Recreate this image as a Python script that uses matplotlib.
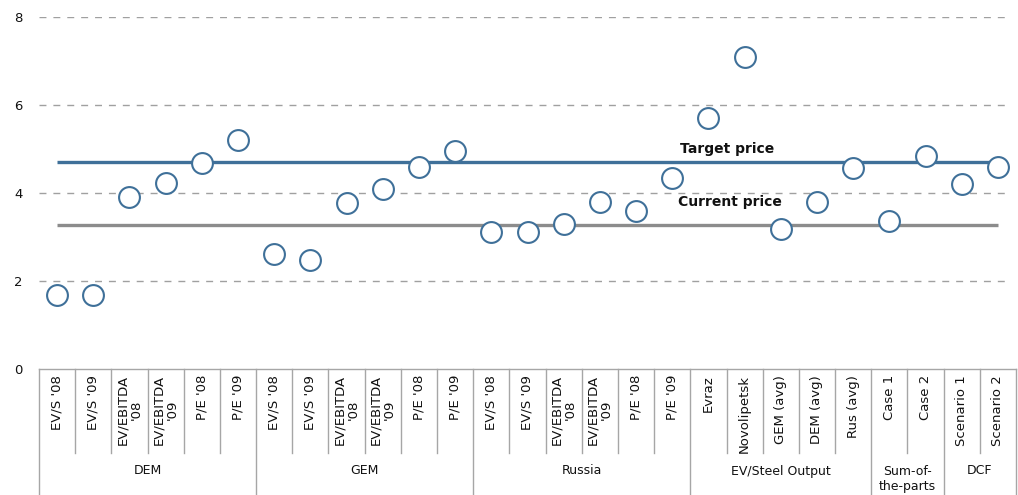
import matplotlib
matplotlib.use("Agg")
import matplotlib.pyplot as plt

# Valuation multiples, one point per method
groups = ["DEM", "GEM", "Russia", "EV/Steel Output", "Sum-of-\nthe-parts", "DCF"]
group_sizes = [6, 6, 6, 5, 2, 2]
categories = [
    "EV/S '08", "EV/S '09", "EV/EBITDA\n'08", "EV/EBITDA\n'09", "P/E '08", "P/E '09",
    "EV/S '08", "EV/S '09", "EV/EBITDA\n'08", "EV/EBITDA\n'09", "P/E '08", "P/E '09",
    "EV/S '08", "EV/S '09", "EV/EBITDA\n'08", "EV/EBITDA\n'09", "P/E '08", "P/E '09",
    "Evraz", "Novolipetsk", "GEM (avg)", "DEM (avg)", "Rus (avg)",
    "Case 1", "Case 2",
    "Scenario 1", "Scenario 2",
]
values = [
    1.68, 1.68, 3.91, 4.23, 4.68, 5.20,
    2.61, 2.48, 3.77, 4.09, 4.59, 4.95,
    3.11, 3.11, 3.30, 3.80, 3.59, 4.34,
    5.70, 7.09, 3.18, 3.80, 4.57,
    3.36, 4.84,
    4.20, 4.59,
]
target_price = 4.70
current_price = 3.27
y_ticks = [0, 2, 4, 6, 8]

blue = "#3f7099"
grey = "#8c8c8c"
sep = "#a6a6a6"

fig = plt.figure(figsize=(10.18, 4.95), dpi=100)
W, H = 1018, 495
ax = fig.add_axes([39 / W, (H - 369) / H, (1016 - 39) / W, (369 - 17) / H])

n = len(categories)
xs = list(range(n))
ax.set_xlim(-0.5, n - 0.5)
ax.set_ylim(0, 8)

# dashed gridlines
for t in y_ticks[1:]:
    ax.axhline(t, xmin=0, xmax=0.994, color="#a0a0a0", lw=1.0, ls=(0, (5, 5)), zorder=1)

# price levels
ax.plot([0, n - 1], [target_price, target_price], color=blue, lw=2.4, zorder=2,
        solid_capstyle="butt")
ax.plot([0, n - 1], [current_price, current_price], color=grey, lw=2.4, zorder=2,
        solid_capstyle="butt")
ax.text(18.52, target_price + 0.13, "Target price", ha="center", va="bottom",
        fontsize=10, fontweight="bold", color="#111111", zorder=4)
ax.text(18.6, current_price + 0.36, "Current price", ha="center", va="bottom",
        fontsize=10, fontweight="bold", color="#111111", zorder=4)

ax.plot(xs, values, ls="none", marker="o", markersize=15, markerfacecolor="white",
        markeredgecolor=blue, markeredgewidth=1.5, zorder=5, clip_on=False)

for s in ["top", "right", "left"]:
    ax.spines[s].set_visible(False)
ax.spines["bottom"].set_color(sep)
ax.spines["bottom"].set_linewidth(1.0)

ax.set_yticks(y_ticks)
ax.set_yticklabels([str(t) for t in y_ticks], fontsize=9.5, color="#111111")
ax.tick_params(axis="y", length=0, pad=12)
ax.set_xticks([])

# two-level category axis
tr = ax.get_xaxis_transform()
px = 1.0 / 352.0
cat_bottom = -(453 - 369) * px
fig_bottom = -(495 - 369) * px

for i, lab in enumerate(categories):
    ax.text(i, -6 * px, lab, rotation=90, ha="center", va="top", fontsize=9.5,
            multialignment="center", color="#111111", transform=tr, clip_on=False,
            linespacing=1.05)

bounds = [0]
for g in group_sizes:
    bounds.append(bounds[-1] + g)

for b in range(n + 1):
    xb = b - 0.5
    bottom = fig_bottom if b in bounds else cat_bottom
    ax.plot([xb, xb], [0, bottom], color=sep, lw=1.0, transform=tr, clip_on=False)

for g, start, end in zip(groups, bounds[:-1], bounds[1:]):
    xc = (start + end - 1) / 2.0
    yy = -(471 - 369) * px if "\n" not in g else -(479 - 369) * px
    ax.text(xc, yy, g, ha="center", va="center", fontsize=9, color="#111111",
            linespacing=1.25, transform=tr, clip_on=False)

fig.savefig("out.png", dpi=100)
